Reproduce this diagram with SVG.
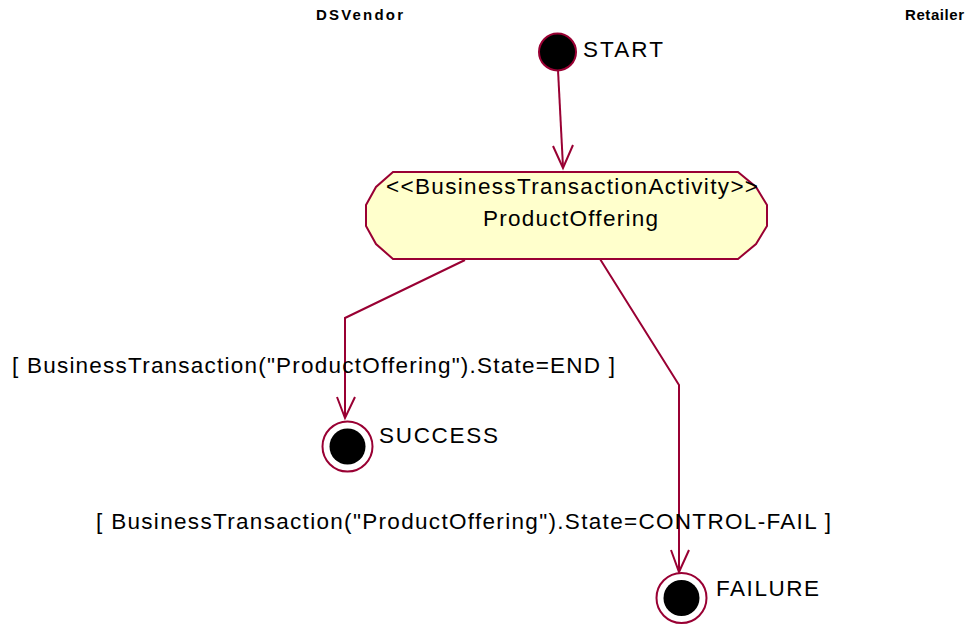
<svg xmlns="http://www.w3.org/2000/svg" width="970" height="626" viewBox="0 0 970 626">
<defs>
<style>
.t{font-family:"Liberation Sans",Arial,sans-serif;font-size:22.5px;fill:#000}
.h{font-family:"Liberation Sans",Arial,sans-serif;font-size:15px;font-weight:bold;fill:#000}
.ln{fill:none;stroke:#990033;stroke-width:2}
.node{stroke:#990033;stroke-width:2}
</style>
</defs>
<rect width="970" height="626" fill="#fff"/>
<g id="swimlanes">
<text class="h" x="316" y="20" textLength="87" lengthAdjust="spacing">DSVendor</text>
<text class="h" x="905" y="20" textLength="59" lengthAdjust="spacing">Retailer</text>
</g>
<g id="connectors">
<path class="ln" d="M558,70 L563,167"/>
<path class="ln" d="M553,146 L563,168 L573,145"/>
<path class="ln" d="M465,260 L345,318 L345,417"/>
<path class="ln" d="M337,397 L345,418 L355,397"/>
<text class="t" x="12" y="373" textLength="603" lengthAdjust="spacing">[ BusinessTransaction("ProductOffering").State=END ]</text>
<path class="ln" d="M600,259 L679,385 L679,571"/>
<path class="ln" d="M671,550 L679,572 L689,550"/>
<text class="t" x="96" y="529" textLength="735" lengthAdjust="spacing">[ BusinessTransaction("ProductOffering").State=CONTROL-FAIL ]</text>
</g>
<g id="start">
<circle class="node" cx="557.5" cy="52" r="18.5" fill="#000"/>
<text class="t" x="583" y="57" textLength="80" lengthAdjust="spacing">START</text>
</g>
<g id="productOffering">
<path class="node" fill="#FFFFCC" d="M393,172 L738,172 L756,187 L767,205 L767,226 L756,244 L738,259 L393,259 L376,244 L366,226 L366,205 L376,187 Z"/>
<text class="t" x="386" y="194" textLength="372" lengthAdjust="spacing">&lt;&lt;BusinessTransactionActivity&gt;&gt;</text>
<text class="t" x="483" y="226" textLength="175" lengthAdjust="spacing">ProductOffering</text>
</g>
<g id="success">
<circle class="node" cx="347.5" cy="446.5" r="25" fill="#fff"/>
<circle cx="347.5" cy="446.5" r="18" fill="#000"/>
<text class="t" x="379" y="443" textLength="119" lengthAdjust="spacing">SUCCESS</text>
</g>
<g id="failure">
<circle class="node" cx="681.5" cy="598" r="25" fill="#fff"/>
<circle cx="681.5" cy="598" r="18" fill="#000"/>
<text class="t" x="716" y="596" textLength="103" lengthAdjust="spacing">FAILURE</text>
</g>
</svg>
